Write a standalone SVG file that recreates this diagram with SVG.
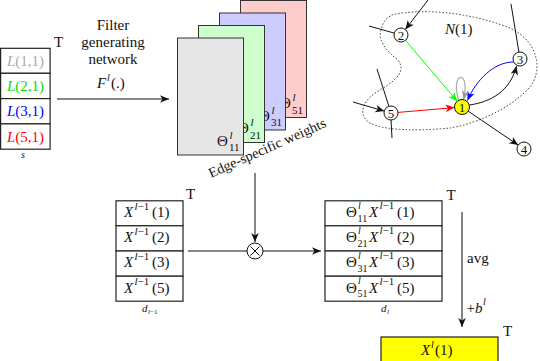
<svg xmlns="http://www.w3.org/2000/svg" width="540" height="361" viewBox="0 0 540 361">
<style>
text{font-family:"Liberation Serif","DejaVu Serif",serif;fill:#111}
.m{font-style:italic}
.t{font-size:15px}
.s{font-size:10px}
.cs{font-size:11px}
.cell{fill:#fff;stroke:#222;stroke-width:1.2}
.card{stroke:#333;stroke-width:1}
.ln{fill:none;stroke:#111;stroke-width:1}
.node{fill:#fff;stroke:#111;stroke-width:1}
.nl{font-size:13px;text-anchor:middle}
.c{text-anchor:middle}
</style>
<defs>
<marker id="ab" markerUnits="userSpaceOnUse" markerWidth="12" markerHeight="10" viewBox="-1 -5 12 10" refX="9" refY="0" orient="auto"><path d="M0,-3.8 L9,0 L0,3.8 L2.5,0 z" fill="#111"/></marker>
<marker id="ag" markerUnits="userSpaceOnUse" markerWidth="12" markerHeight="10" viewBox="-1 -5 12 10" refX="9" refY="0" orient="auto"><path d="M0,-3.8 L9,0 L0,3.8 L2.5,0 z" fill="#00ff00"/></marker>
<marker id="ar" markerUnits="userSpaceOnUse" markerWidth="12" markerHeight="10" viewBox="-1 -5 12 10" refX="9" refY="0" orient="auto"><path d="M0,-3.8 L9,0 L0,3.8 L2.5,0 z" fill="#ff0000"/></marker>
<marker id="au" markerUnits="userSpaceOnUse" markerWidth="12" markerHeight="10" viewBox="-1 -5 12 10" refX="9" refY="0" orient="auto"><path d="M0,-3.8 L9,0 L0,3.8 L2.5,0 z" fill="#0000ff"/></marker>
<marker id="ay" markerUnits="userSpaceOnUse" markerWidth="12" markerHeight="10" viewBox="-1 -5 12 10" refX="9" refY="0" orient="auto"><path d="M0,-3.8 L9,0 L0,3.8 L2.5,0 z" fill="#999"/></marker>
</defs>

<!-- Left stack L -->
<g id="L-stack">
<rect class="cell" x="0.6" y="48.3" width="49.5" height="25"/>
<rect class="cell" x="0.6" y="73.3" width="49.5" height="25.3"/>
<rect class="cell" x="0.6" y="98.6" width="49.5" height="25.3"/>
<rect class="cell" x="0.6" y="123.9" width="49.5" height="25.3"/>
<text class="t c" x="25.5" y="65.5" style="fill:#aaa"><tspan class="m">L</tspan>(1,1)</text>
<text class="t c" x="25.5" y="91" style="fill:#00e000"><tspan class="m">L</tspan>(2,1)</text>
<text class="t c" x="25.5" y="116.3" style="fill:#0000ff"><tspan class="m">L</tspan>(3,1)</text>
<text class="t c" x="25.5" y="141.5" style="fill:#ff0000"><tspan class="m">L</tspan>(5,1)</text>
<text class="t" x="54" y="46.5">T</text>
<text class="m c" x="23" y="158" font-size="10">s</text>
</g>

<g id="filter-label">
<text class="t c" x="113" y="30">Filter</text>
<text class="t c" x="113" y="47">generating</text>
<text class="t c" x="113" y="64">network</text>
<text class="t m" x="97" y="88">F</text>
<text class="s m" x="107" y="81">l</text>
<text class="t" x="111" y="88">(.)</text>
</g>

<!-- Cards -->
<g id="card-51">
<rect class="card" x="240.5" y="0.5" width="66" height="117" fill="#ffcccc"/>
<text class="t" x="280" y="108" font-size="16">Θ</text>
<text class="cs m" x="292.5" y="101">l</text>
<text class="cs" x="292" y="113.5">51</text>
</g>
<g id="card-31">
<rect class="card" x="219.5" y="13" width="66" height="117" fill="#ccccff"/>
<text class="t" x="259" y="120.5" font-size="16">Θ</text>
<text class="cs m" x="271.5" y="113.5">l</text>
<text class="cs" x="271" y="126">31</text>
</g>
<g id="card-21">
<rect class="card" x="198.5" y="25.5" width="66" height="117" fill="#ccffcc"/>
<text class="t" x="238" y="133" font-size="16">Θ</text>
<text class="cs m" x="250.5" y="126">l</text>
<text class="cs" x="250" y="138.5">21</text>
</g>
<g id="card-11">
<rect class="card" x="177.5" y="38" width="66" height="117" fill="#e6e6e6"/>
<text class="t" x="217" y="145.5" font-size="16">Θ</text>
<text class="cs m" x="229.5" y="138.5">l</text>
<text class="cs" x="229" y="151">11</text>
</g>
<g id="edge-weights-label">
<text transform="translate(211,178) rotate(-24)" font-size="14" textLength="127" lengthAdjust="spacingAndGlyphs">Edge-specific weights</text>
</g>

<!-- Graph -->
<g id="blob">
<path d="M392,15 C420,8 470,12 510,28 C540,42 545,75 525,92 C505,112 470,125 450,128 C420,131 385,131 370,123 C357,115 362,100 380,90 C400,78 405,70 398,60 C385,50 378,40 381,30 C383,22 386,18 392,15 Z" fill="none" stroke="#444" stroke-width="1" stroke-dasharray="0.8 2.6" stroke-linecap="round"/>
<text class="t" x="445" y="33.5" font-size="16"><tspan class="m">N</tspan>(1)</text>
</g>

<g id="graph-edges">
<path class="ln" d="M428,0 L405.3,29.5" marker-end="url(#ab)"/>
<path class="ln" d="M369,26 L394.3,33.1"/>
<path d="M405.5,40.3 L457.2,101.3" fill="none" stroke="#00ff00" stroke-width="1" marker-end="url(#ag)"/>
<path class="ln" d="M377,69 L388.9,106.3"/>
<path class="ln" d="M391,120 L392,138"/>
<path class="ln" d="M353,102 L384.3,111.1" marker-end="url(#ab)"/>
<path d="M398,112.4 L454.5,107.6" fill="none" stroke="#ff0000" stroke-width="1" marker-end="url(#ar)"/>
<path class="ln" d="M511,4 L518.9,52.1"/>
<path d="M513.5,62 C494,62 476,80 467.5,100.5" fill="none" stroke="#0000ff" stroke-width="1" marker-end="url(#au)"/>
<path class="ln" d="M469.5,105 C490,102 510,92 516.5,66" marker-end="url(#ab)"/>
<path d="M458.5,100 C450,70 471,70 463.5,99.5" fill="none" stroke="#aaa" stroke-width="1.2" marker-end="url(#ay)"/>
<path class="ln" d="M468.2,111.2 L518.2,145.1" marker-end="url(#ab)"/>
</g>

<g id="node-2"><circle class="node" cx="401" cy="35" r="7"/><text class="nl" x="401" y="39.5">2</text></g>
<g id="node-3"><circle class="node" cx="520" cy="59" r="7"/><text class="nl" x="520" y="63.5">3</text></g>
<g id="node-5"><circle class="node" cx="391" cy="113" r="7"/><text class="nl" x="391" y="117.5">5</text></g>
<g id="node-4"><circle class="node" cx="524" cy="149" r="7"/><text class="nl" x="524" y="153.5">4</text></g>
<g id="node-1"><circle cx="462" cy="107" r="7.5" fill="#ffff00" stroke="#111" stroke-width="1"/><text class="nl" x="462" y="111.5">1</text></g>

<!-- Main connectors -->
<g id="connectors">
<path class="ln" d="M57,99 L169,99" marker-end="url(#ab)"/>
<path class="ln" d="M255,173 L255,242" marker-end="url(#ab)"/>
<path class="ln" d="M188,251 L247,251"/>
<path class="ln" d="M263,251 L321,251" marker-end="url(#ab)"/>
<path d="M462,212 L462,327" fill="none" stroke="#333" stroke-width="1.2" marker-end="url(#ab)"/>
</g>

<g id="otimes">
<circle cx="255" cy="251" r="8" fill="#fff" stroke="#111" stroke-width="1"/>
<path d="M250.5,246.5 L259.5,255.5 M259.5,246.5 L250.5,255.5" stroke="#111" stroke-width="1"/>
</g>

<!-- X stack -->
<g id="X-stack">
<rect class="cell" x="116" y="200.8" width="67" height="25"/>
<rect class="cell" x="116" y="225.8" width="67" height="25.2"/>
<rect class="cell" x="116" y="251" width="67" height="25.2"/>
<rect class="cell" x="116" y="276.2" width="67" height="25"/>
<text class="t m" x="124" y="217">X</text><text class="cs" x="134.5" y="209.5"><tspan class="m">l</tspan>−1</text><text class="t" x="152" y="217">(1)</text>
<text class="t m" x="124" y="242.2">X</text><text class="cs" x="134.5" y="234.7"><tspan class="m">l</tspan>−1</text><text class="t" x="152" y="242.2">(2)</text>
<text class="t m" x="124" y="267.4">X</text><text class="cs" x="134.5" y="259.9"><tspan class="m">l</tspan>−1</text><text class="t" x="152" y="267.4">(3)</text>
<text class="t m" x="124" y="292.5">X</text><text class="cs" x="134.5" y="285"><tspan class="m">l</tspan>−1</text><text class="t" x="152" y="292.5">(5)</text>
<text class="t" x="186" y="199">T</text>
<text x="142" y="312" font-size="11" class="m">d</text><text x="148" y="314" font-size="7"><tspan class="m">l</tspan>−1</text>
</g>

<!-- Theta X stack -->
<g id="ThetaX-stack">
<rect class="cell" x="325" y="200.8" width="117" height="25"/>
<rect class="cell" x="325" y="225.8" width="117" height="25.2"/>
<rect class="cell" x="325" y="251" width="117" height="25.2"/>
<rect class="cell" x="325" y="276.2" width="117" height="25"/>
<text class="t" x="346" y="217">Θ</text><text class="s m" x="358" y="208.5">l</text><text class="s" x="357.5" y="221.5">11</text><text class="t m" x="369" y="217">X</text><text class="cs" x="379.5" y="209"><tspan class="m">l</tspan>−1</text><text class="t" x="397" y="217">(1)</text>
<text class="t" x="346" y="242.2">Θ</text><text class="s m" x="358" y="233.7">l</text><text class="s" x="357.5" y="246.7">21</text><text class="t m" x="369" y="242.2">X</text><text class="cs" x="379.5" y="234.2"><tspan class="m">l</tspan>−1</text><text class="t" x="397" y="242.2">(2)</text>
<text class="t" x="346" y="267.4">Θ</text><text class="s m" x="358" y="258.9">l</text><text class="s" x="357.5" y="271.9">31</text><text class="t m" x="369" y="267.4">X</text><text class="cs" x="379.5" y="259.4"><tspan class="m">l</tspan>−1</text><text class="t" x="397" y="267.4">(3)</text>
<text class="t" x="346" y="292.5">Θ</text><text class="s m" x="358" y="284">l</text><text class="s" x="357.5" y="297">51</text><text class="t m" x="369" y="292.5">X</text><text class="cs" x="379.5" y="284.5"><tspan class="m">l</tspan>−1</text><text class="t" x="397" y="292.5">(5)</text>
<text class="t" x="446.5" y="199.5">T</text>
<text x="381" y="312" font-size="11" class="m">d</text><text x="387" y="314" font-size="7" class="m">l</text>
</g>

<g id="avg-labels">
<text class="t" x="467" y="263">avg</text>
<text class="t" x="466.5" y="312.5">+<tspan class="m">b</tspan></text>
<text class="s m" x="483" y="305">l</text>
</g>

<g id="output">
<rect x="381" y="337" width="117" height="26" fill="#ffff00" stroke="#222" stroke-width="1.2"/>
<text class="t m" x="421" y="355">X</text><text class="s m" x="431" y="348">l</text><text class="t" x="435" y="355">(1)</text>
<text class="t" x="503" y="336">T</text>
</g>
</svg>
